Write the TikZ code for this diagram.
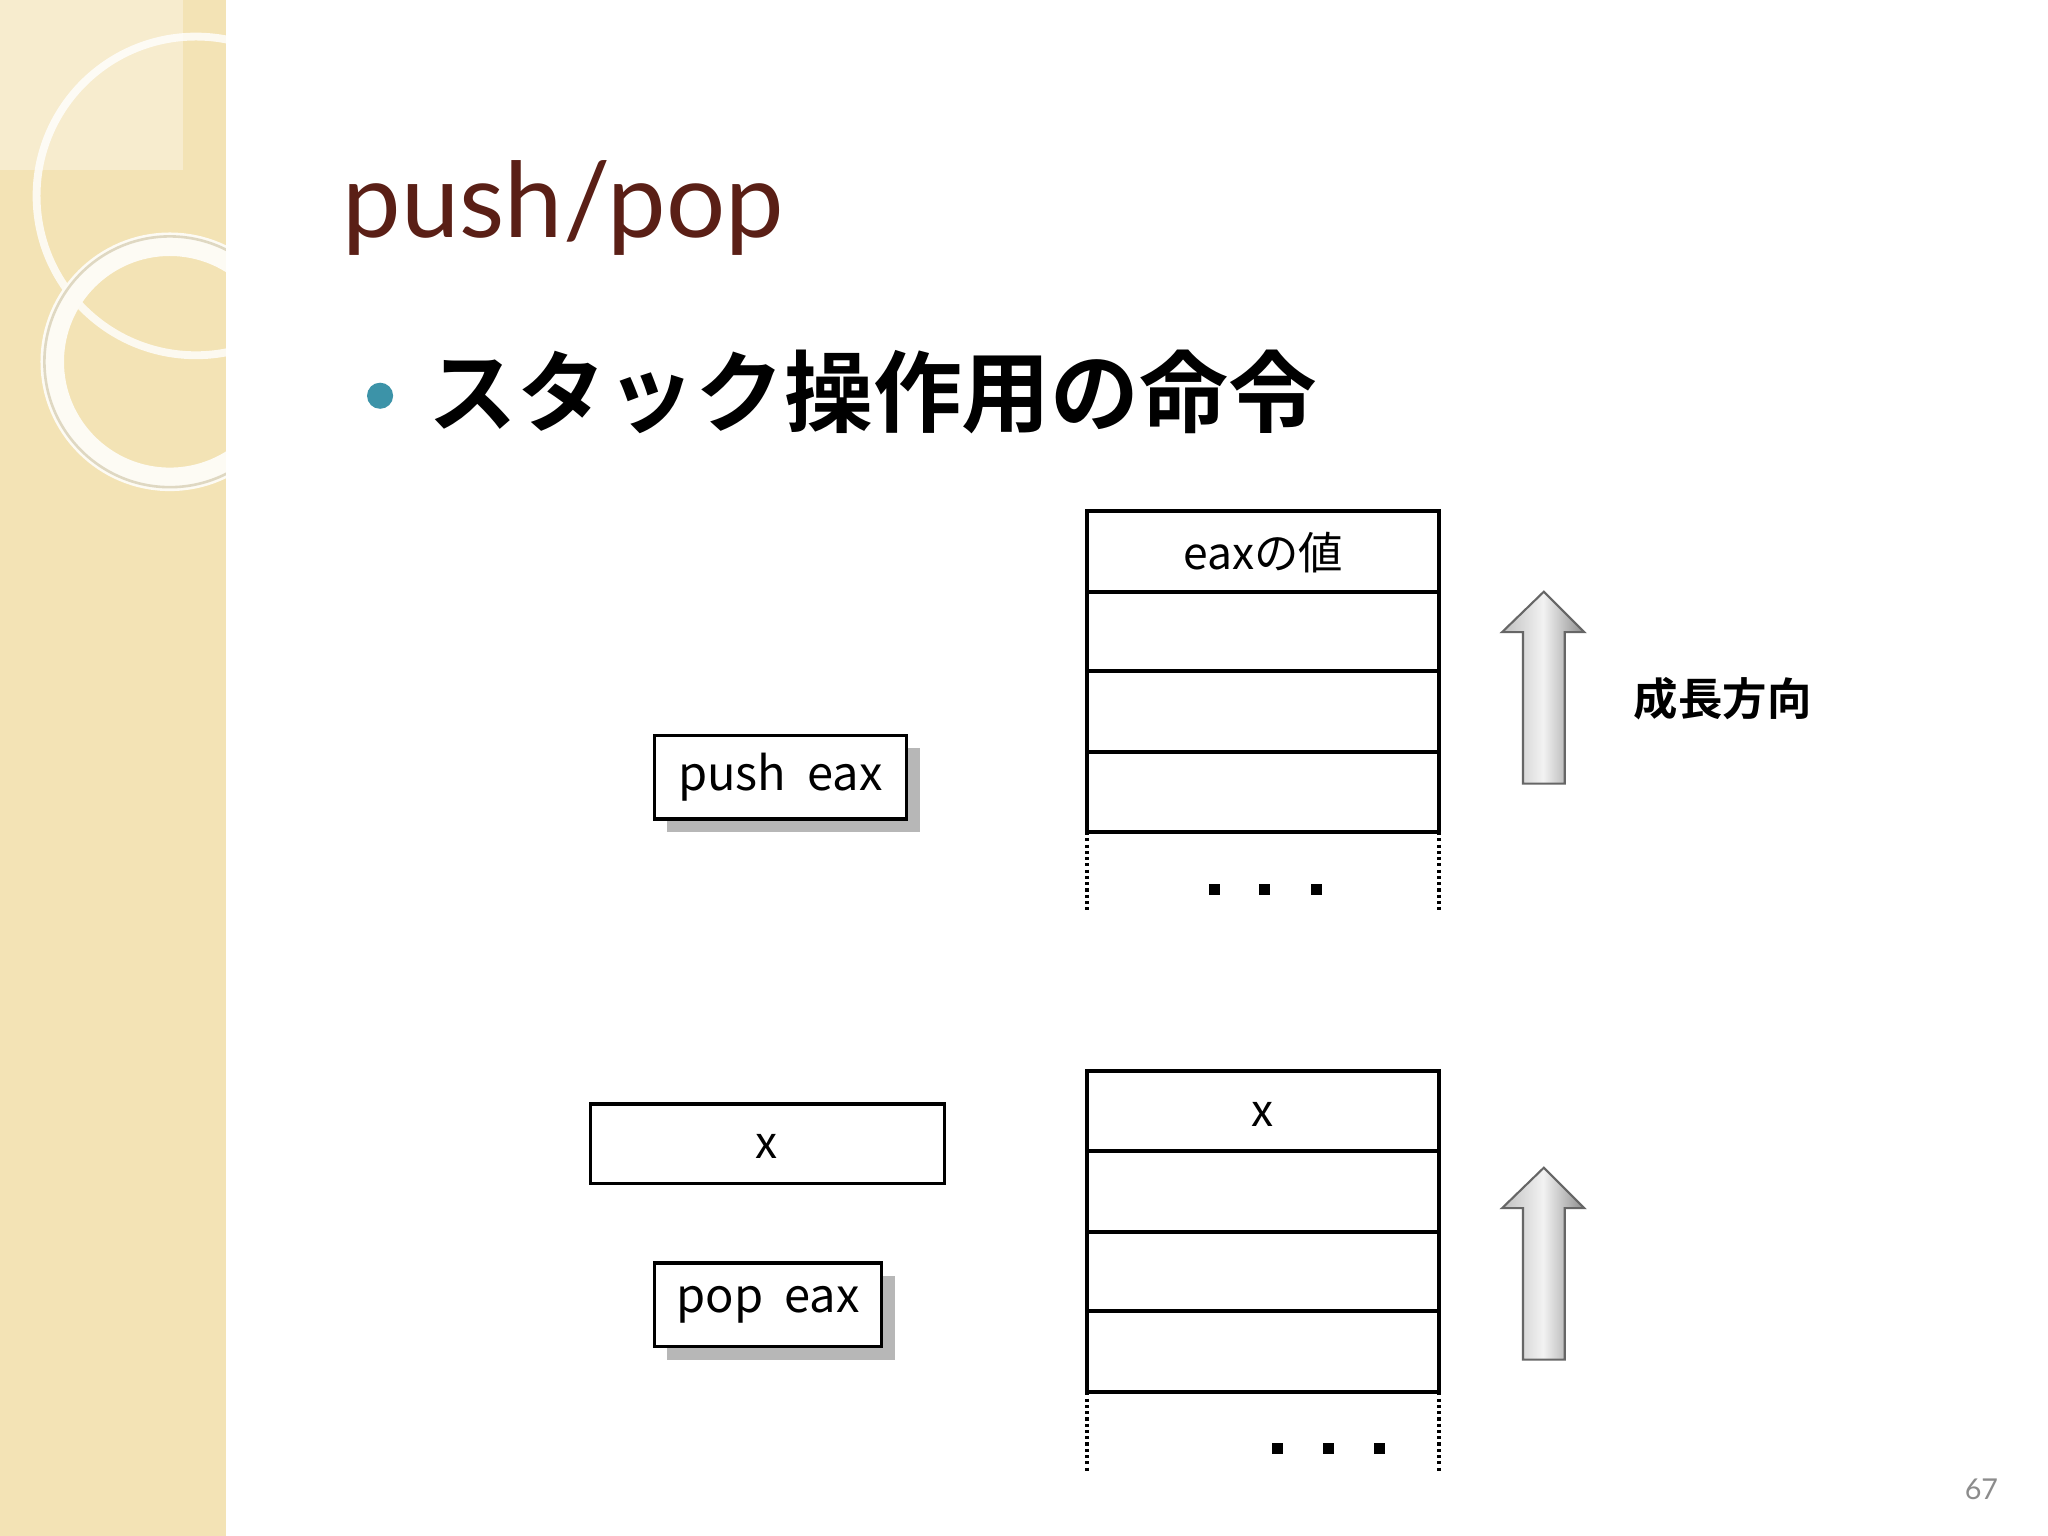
\documentclass[tikz,border=0pt]{standalone}
\usepackage{fontspec}
\setmainfont{Lato}
\newfontfamily\jp{Noto Sans CJK JP}
\newfontfamily\jpb{Noto Sans CJK JP Bold}
\usetikzlibrary{shadows}
\definecolor{beige}{HTML}{F3E3B5}
\definecolor{titlec}{HTML}{5A1F16}
\definecolor{teal}{HTML}{3C93A8}
\tikzset{x=0.5pt,y=-0.5pt,
 cell/.style={draw=black,line width=1.6pt},
 cmd/.style={draw=black,line width=1.4pt,fill=white,inner sep=0pt,
   drop shadow={shadow xshift=5pt,shadow yshift=-5pt,fill=black!40,opacity=0.7}},
 garrow/.style={draw=black!60,line width=0.8pt,left color=black!25,right color=black!45,middle color=black!5},
 dotside/.style={line width=1.6pt,dash pattern=on 1.2pt off 1.2pt}}
\begin{document}
\begin{tikzpicture}
\useasboundingbox (0,0) rectangle (1568,1176);
\fill[white] (0,0) rectangle (1568,1176);
\fill[beige] (0,0) rectangle (173,1176);
\begin{scope}
\clip (0,0) rectangle (173,1176);
\fill[white,opacity=0.35] (0,0) rectangle (140,130);
\draw[white,line width=3pt,opacity=0.8] (150,150) circle (122);
\draw[white!85!beige,line width=9pt] (130,277) circle (90);
\draw[beige!80!black,line width=1pt,opacity=0.5] (130,277) circle (96);
\end{scope}
% title
\node[anchor=base west,inner sep=0,text=titlec,font=\fontsize{40}{40}\selectfont] (title) at (262,182) {push/pop};
\fill[teal] (291,303) circle (10);
\node[anchor=west,inner sep=0,font=\jpb\fontsize{34}{34}\selectfont] (sub) at (328,300) {スタック操作用の命令};
% top stack
\foreach \i/\ya/\yb in {1/391/453,2/453/514,3/514/576,4/576/637}
  \draw[cell] (832,\ya) rectangle (1102,\yb);
\node[font=\jp\fontsize{17}{17}\selectfont] (eaxv) at (967,423) {eaxの値};
\draw[dotside] (832,637) -- (832,697);
\draw[dotside] (1102,637) -- (1102,697);
\foreach \x in {930,968,1008} \fill (\x-4,677) rectangle (\x+4,685);
\draw[garrow] (1166,600) -- (1166,484) -- (1150,484) -- (1182,453) -- (1213,484) -- (1198,484) -- (1198,600) -- cycle;
\node[font=\jpb\fontsize{17}{17}\selectfont] (grow) at (1319,535) {成長方向};
\node[cmd,minimum width=96.5pt,minimum height=32pt,font=\jp\fontsize{18}{18}\selectfont] (push) at (597.5,595) {push\ \ eax};
% bottom
\foreach \i/\ya/\yb in {1/820/881,2/881/943,3/943/1004,4/1004/1066}
  \draw[cell] (832,\ya) rectangle (1102,\yb);
\node[font=\jp\fontsize{17}{17}\selectfont] (bx) at (967,853) {x};
\draw[dotside] (832,1066) -- (832,1126);
\draw[dotside] (1102,1066) -- (1102,1126);
\foreach \x in {978,1017,1056} \fill (\x-4,1105) rectangle (\x+4,1113);
\draw[garrow] (1166,1041) -- (1166,925) -- (1150,925) -- (1182,894) -- (1213,925) -- (1198,925) -- (1198,1041) -- cycle;
\draw[cell,line width=1.4pt] (452,845) rectangle (723,906);
\node[font=\jp\fontsize{17}{17}\selectfont] (eaxx) at (587,878) {x};
\node[cmd,minimum width=87pt,minimum height=32pt,font=\jp\fontsize{18}{18}\selectfont] (pop) at (588,999) {pop\ \ eax};
\node[text=black!45,font=\fontsize{11}{11}\selectfont] (pg) at (1517,1140) {67};
\end{tikzpicture}
\end{document}
